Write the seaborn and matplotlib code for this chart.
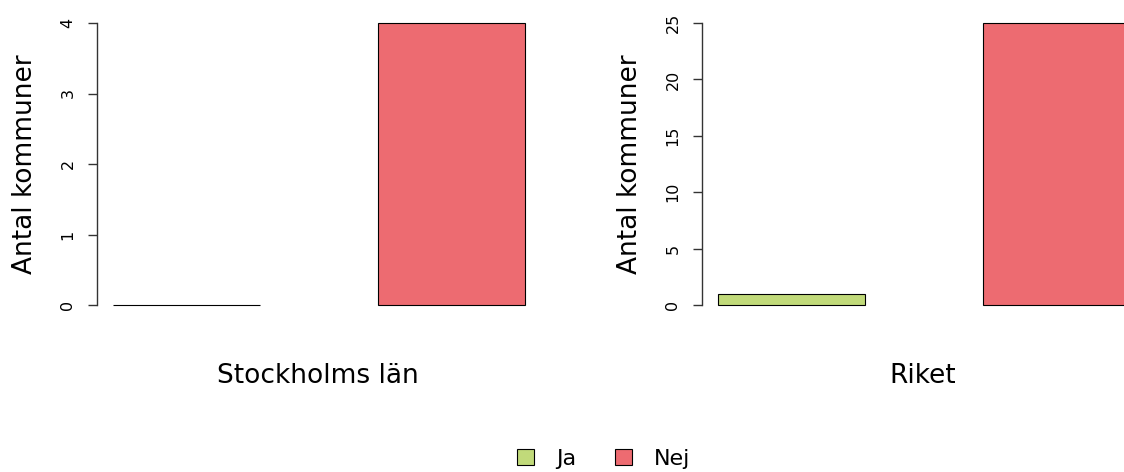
import matplotlib
matplotlib.use("Agg")
import matplotlib.pyplot as plt
from matplotlib.patches import Patch
import seaborn as sns
import pandas as pd

# ---- data ----
categories = ["Ja", "Nej"]
regions = ["Stockholms län", "Riket"]
stockholm_values = [0, 4]
riket_values = [1, 25]
yticks_stockholm = [0, 1, 2, 3, 4]
yticks_riket = [0, 5, 10, 15, 20, 25]
ylabel_text = "Antal kommuner"
colors = {"Ja": "#C1DA7A", "Nej": "#ED6B71"}

sns.set_theme(style="white")
plt.rcParams["font.family"] = ["DejaVu Sans"]
plt.rcParams["text.color"] = "black"

W, H = 1124, 472
fig = plt.figure(figsize=(W / 100, H / 100), dpi=100)

ax_w = 442
top, bottom = 23, 305
panels = [
    (97, regions[0], stockholm_values, yticks_stockholm),
    (702, regions[1], riket_values, yticks_riket),
]

bar_w = 1 / 1.8
unit_px = 147 / bar_w
x0 = -bar_w / 2 - 16 / unit_px
for left_px, region, vals, yt in panels:
    ax = fig.add_axes([left_px / W, (H - bottom) / H, ax_w / W, (bottom - top) / H])
    df = pd.DataFrame({"cat": categories, "val": vals})
    sns.barplot(data=df, x="cat", y="val", hue="cat", palette=colors,
                width=bar_w, edgecolor="black", linewidth=0.8,
                legend=False, ax=ax, saturation=1)
    for p in ax.patches:
        p.set_clip_on(False)
    ax.set_xlim(x0, x0 + ax_w / unit_px)
    ax.set_ylim(yt[0], yt[-1])
    ax.set_yticks(yt)
    ax.set_yticklabels([str(v) for v in yt])
    ax.set_xticks([])
    for s in ["top", "right", "bottom"]:
        ax.spines[s].set_visible(False)
    ax.spines["left"].set_color("#333333")
    ax.spines["left"].set_linewidth(1.0)
    ax.tick_params(axis="y", left=True, length=6.5, width=1.0, color="#333333",
                   pad=9, labelsize=11.5, labelrotation=90, labelcolor="black")
    for lab in ax.get_yticklabels():
        lab.set_va("center")
    ax.set_ylabel(ylabel_text, fontsize=19, color="black")
    ax.yaxis.set_label_coords(-0.133, 0.5)
    ax.set_xlabel(region, fontsize=19, color="black", labelpad=42)
    ax.patch.set_alpha(0)

handles = [Patch(facecolor=colors[c], edgecolor="black", linewidth=0.8, label=c) for c in categories]
leg = fig.legend(handles=handles, loc="center", bbox_to_anchor=(604 / W, 13 / H), ncol=2,
                 frameon=False, fontsize=16, handlelength=0.75, handleheight=0.75,
                 handletextpad=1.0, columnspacing=1.75)
for t in leg.get_texts():
    t.set_color("black")

fig.savefig("out.png", dpi=100, facecolor="white")
